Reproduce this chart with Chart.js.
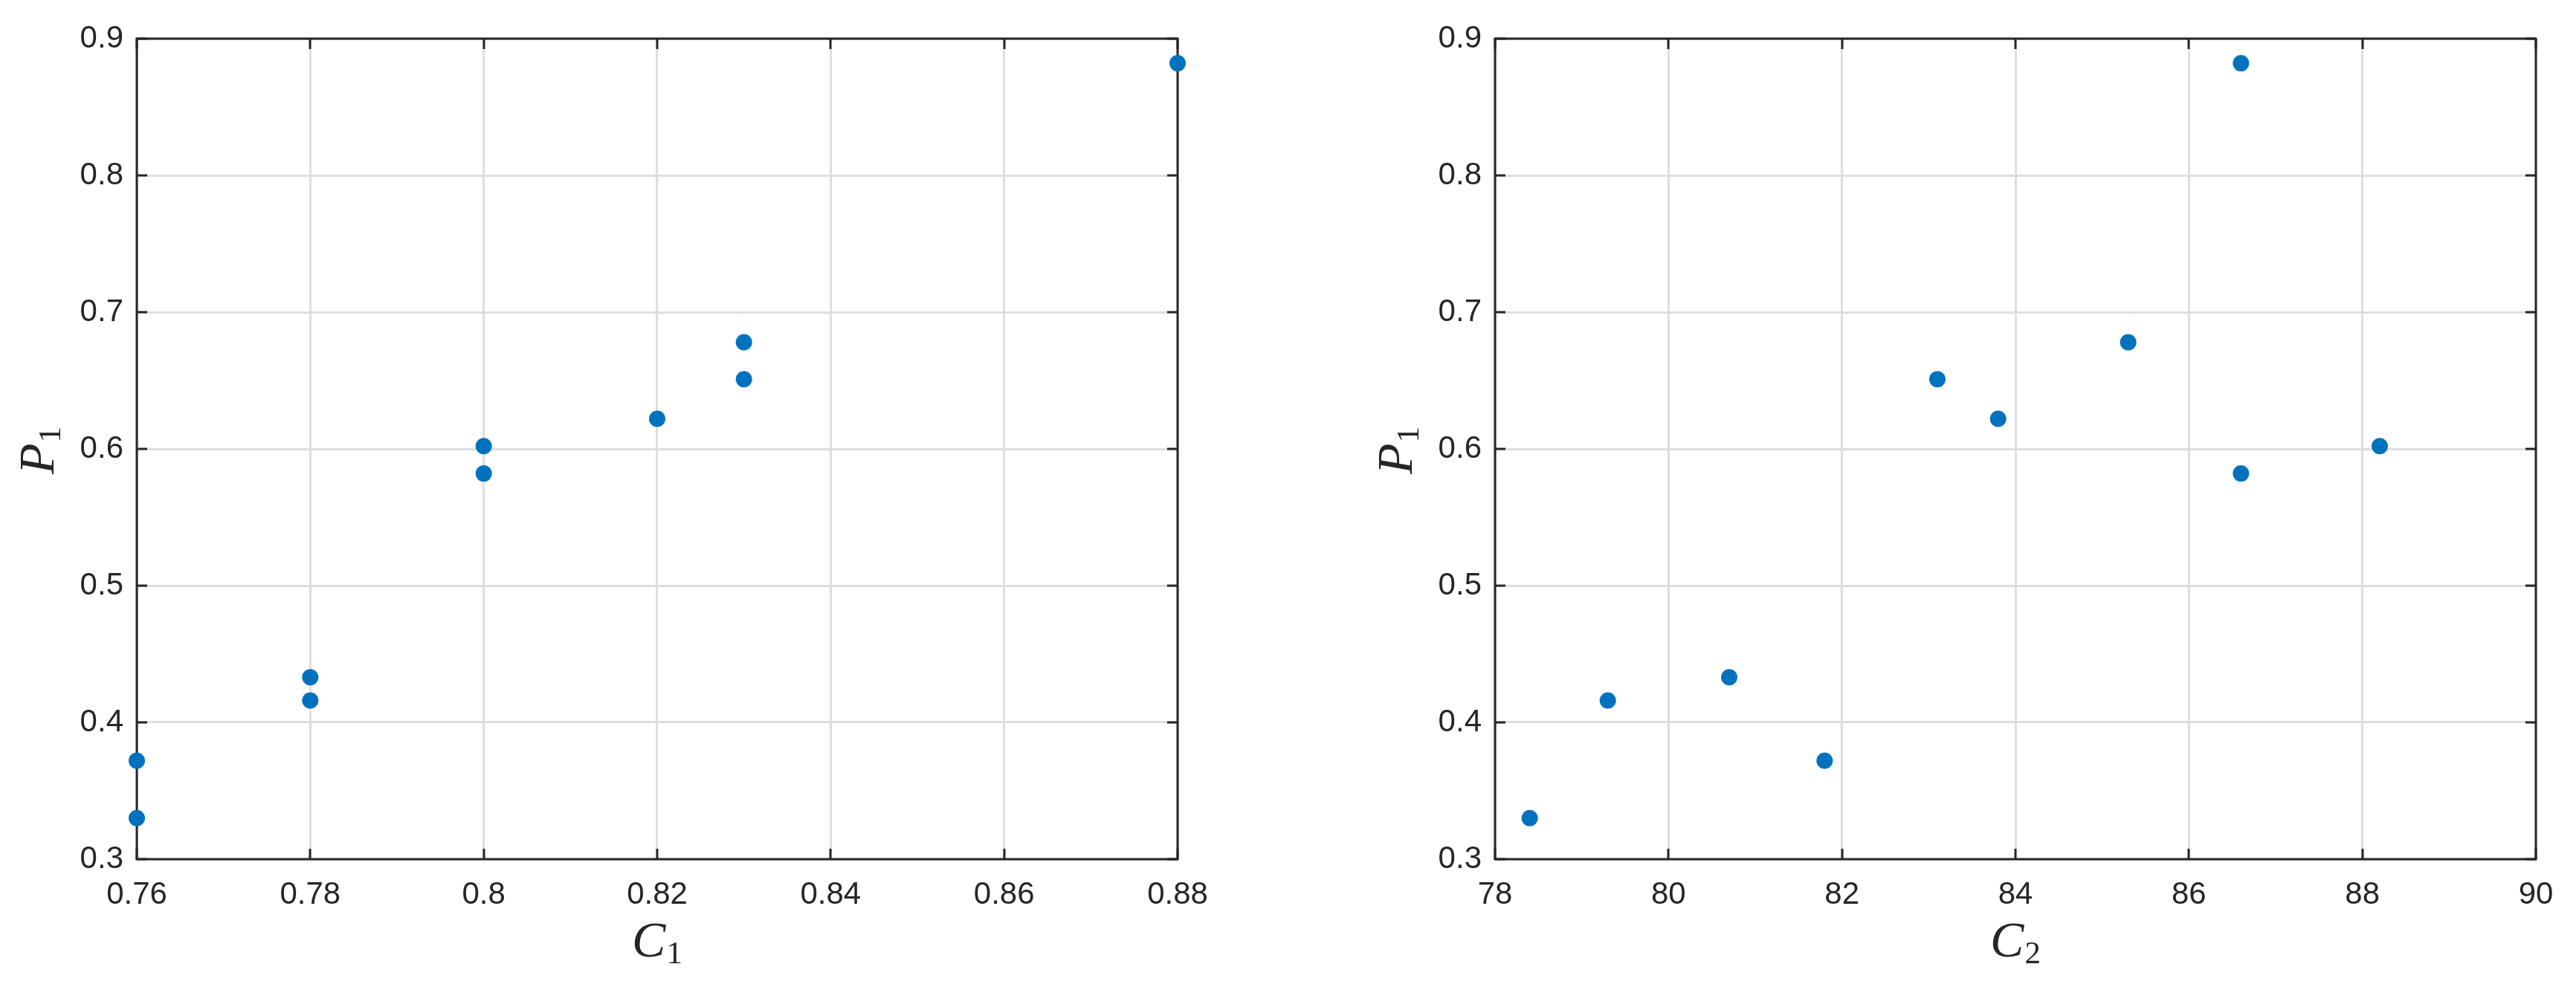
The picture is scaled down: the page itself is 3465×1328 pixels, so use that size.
<!DOCTYPE html>
<html>
<head>
<meta charset="utf-8">
<script src="https://cdn.jsdelivr.net/npm/chart.js@4/dist/chart.umd.min.js"></script>
<style>
  html, body { margin: 0; padding: 0; background: #ffffff; }
  body { width: 3465px; height: 1328px; position: relative; overflow: hidden; }
  .wrap { position: absolute; top: 0; height: 1328px; }
  canvas { display: block; }
</style>
</head>
<body>
<div class="wrap" style="left:0px;width:1732px"><canvas id="c1" width="1732" height="1328"></canvas></div>
<div class="wrap" style="left:1732px;width:1733px"><canvas id="c2" width="1733" height="1328"></canvas></div>
<script>
// ---- data ----
const P1 = [0.330, 0.372, 0.416, 0.433, 0.582, 0.602, 0.622, 0.651, 0.678, 0.882];
const C1 = [0.76, 0.76, 0.78, 0.78, 0.80, 0.80, 0.82, 0.83, 0.83, 0.88];
const C2 = [78.4, 81.8, 79.3, 80.7, 86.6, 88.2, 83.8, 83.1, 85.3, 86.6];

// ---- tick values ----
const C1_TICKS = [0.76, 0.78, 0.80, 0.82, 0.84, 0.86, 0.88];
const C2_TICKS = [78, 80, 82, 84, 86, 88, 90];
const P1_TICKS = [0.3, 0.4, 0.5, 0.6, 0.7, 0.8, 0.9];

// ---- axis titles (main symbol, subscript) ----
const X_TITLE_1 = ['C', '1'];
const X_TITLE_2 = ['C', '2'];
const Y_TITLE = ['P', '1'];

const INK = '#262626';
const GRID = '#dedede';
const BLUE = '#0072BD';
const TICK_LEN = 14;

function fmt(v) { return String(parseFloat(Number(v).toFixed(4))); }

function drawSubLabel(ctx, main, sub, x, y, rotate) {
  ctx.save();
  ctx.translate(x, y);
  if (rotate) ctx.rotate(-Math.PI / 2);
  const mainFont = 'italic 68px "Liberation Serif"';
  const subFont = '43px "Liberation Serif"';
  ctx.font = mainFont; const w1 = ctx.measureText(main).width;
  ctx.font = subFont; const w2 = ctx.measureText(sub).width;
  const gap = 1;
  const sx = -(w1 + gap + w2) / 2;
  ctx.fillStyle = INK;
  ctx.textAlign = 'left';
  ctx.textBaseline = 'alphabetic';
  ctx.font = mainFont; ctx.fillText(main, sx, 0);
  ctx.font = subFont; ctx.fillText(sub, sx + w1 + gap, 9);
  ctx.restore();
}

function framePlugin(xTitle, yTitle) {
  return {
    id: 'frame',
    beforeDatasetsDraw(chart) {
      const { ctx, chartArea: a, scales: { x, y } } = chart;
      ctx.save();
      ctx.strokeStyle = INK;
      ctx.lineWidth = 3;
      ctx.lineCap = 'butt';
      ctx.beginPath();
      x.ticks.forEach(t => {
        const px = Math.round(x.getPixelForValue(t.value));
        ctx.moveTo(px, a.bottom); ctx.lineTo(px, a.bottom - TICK_LEN);
        ctx.moveTo(px, a.top); ctx.lineTo(px, a.top + TICK_LEN);
      });
      y.ticks.forEach(t => {
        const py = Math.round(y.getPixelForValue(t.value));
        ctx.moveTo(a.left, py); ctx.lineTo(a.left + TICK_LEN, py);
        ctx.moveTo(a.right, py); ctx.lineTo(a.right - TICK_LEN, py);
      });
      ctx.stroke();
      ctx.strokeRect(a.left, a.top, a.right - a.left, a.bottom - a.top);
      ctx.restore();
    },
    afterDraw(chart) {
      const { ctx, chartArea: a } = chart;
      drawSubLabel(ctx, xTitle[0], xTitle[1], (a.left + a.right) / 2, a.bottom + 131, false);
      drawSubLabel(ctx, yTitle[0], yTitle[1], a.left - 112, (a.top + a.bottom) / 2 + 2, true);
    }
  };
}

function makeChart(id, xs, xTicks, xTitle, yAxisWidth, rightPad) {
  const tickFont = { family: '"Liberation Sans", Arial, Helvetica, sans-serif', size: 42 };
  return new Chart(document.getElementById(id), {
    type: 'scatter',
    data: {
      datasets: [{
        data: xs.map((v, i) => ({ x: v, y: P1[i] })),
        backgroundColor: BLUE,
        borderColor: BLUE,
        borderWidth: 0,
        pointRadius: 11,
        pointHoverRadius: 11,
        clip: false
      }]
    },
    options: {
      responsive: false,
      animation: false,
      events: [],
      layout: { padding: { top: 52, right: rightPad, left: 0, bottom: 0 } },
      plugins: { legend: { display: false }, tooltip: { enabled: false } },
      scales: {
        x: {
          type: 'linear',
          min: xTicks[0],
          max: xTicks[xTicks.length - 1],
          afterBuildTicks: s => { s.ticks = xTicks.map(v => ({ value: v })); },
          afterFit: s => { s.height = 172; },
          grid: { color: GRID, lineWidth: 3, drawTicks: false },
          border: { display: false },
          ticks: { color: INK, font: tickFont, padding: 23, maxRotation: 0, autoSkip: false, callback: v => fmt(v) }
        },
        y: {
          type: 'linear',
          min: P1_TICKS[0],
          max: P1_TICKS[P1_TICKS.length - 1],
          afterBuildTicks: s => { s.ticks = P1_TICKS.map(v => ({ value: v })); },
          afterFit: s => { s.width = yAxisWidth; },
          grid: { color: GRID, lineWidth: 3, drawTicks: false },
          border: { display: false },
          ticks: { color: INK, font: tickFont, padding: 18, autoSkip: false, callback: v => fmt(v) }
        }
      }
    },
    plugins: [framePlugin(xTitle, Y_TITLE)]
  });
}

makeChart('c1', C1, C1_TICKS, X_TITLE_1, 184, 148);
makeChart('c2', C2, C2_TICKS, X_TITLE_2, 279, 54);
</script>
</body>
</html>
